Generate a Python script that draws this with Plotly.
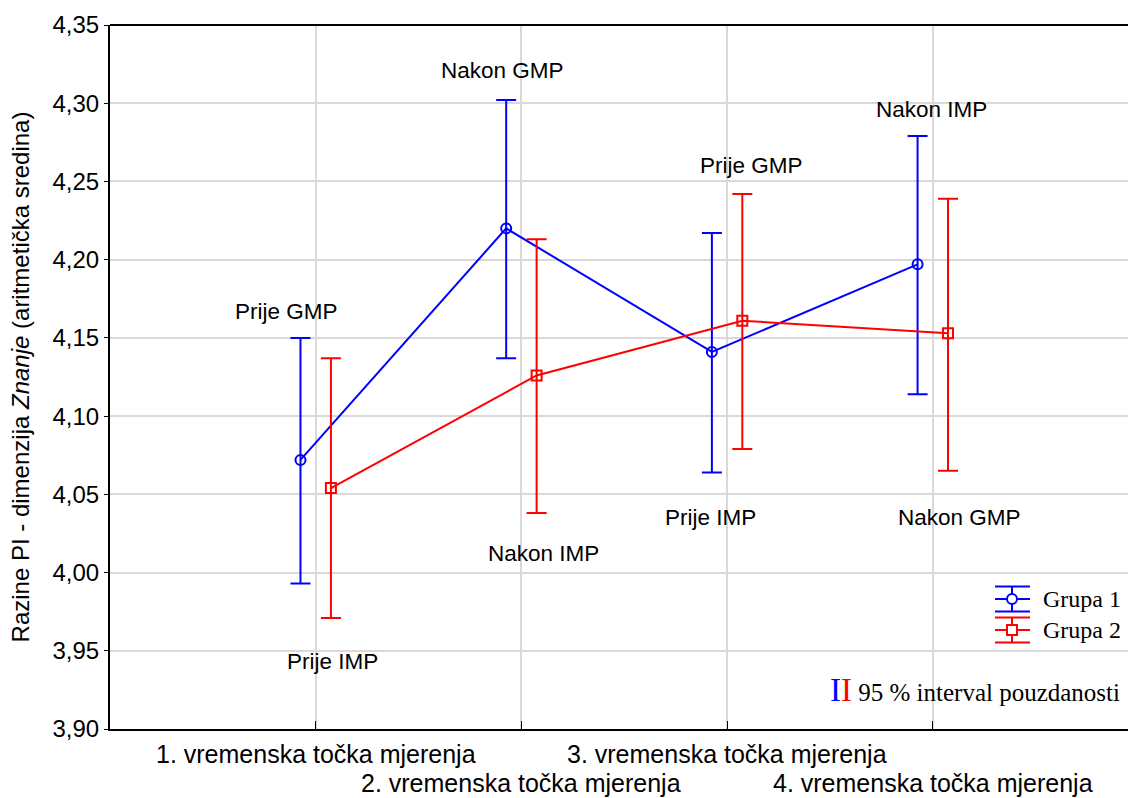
import numpy as np
import plotly.graph_objects as go

# ---- data ----
categories = ["1. vremenska točka mjerenja", "2. vremenska točka mjerenja",
              "3. vremenska točka mjerenja", "4. vremenska točka mjerenja"]
g1_mean = [4.072, 4.220, 4.141, 4.197]
g1_upper = [4.150, 4.302, 4.217, 4.279]
g1_lower = [3.993, 4.137, 4.064, 4.114]
g2_mean = [4.054, 4.126, 4.161, 4.153]
g2_upper = [4.137, 4.213, 4.242, 4.239]
g2_lower = [3.971, 4.038, 4.079, 4.065]

label_texts = ["Prije GMP", "Prije IMP", "Nakon GMP", "Nakon IMP",
               "Prije GMP", "Prije IMP", "Nakon IMP", "Nakon GMP"]
label_x = [0.86, 1.08, 1.906, 2.105, 3.12, 2.917, 3.996, 4.132]
label_y = [4.167, 3.943, 4.321, 4.012, 4.260, 4.035, 4.296, 4.035]

y_ticks = [3.90, 3.95, 4.00, 4.05, 4.10, 4.15, 4.20, 4.25, 4.30, 4.35]

# ---- layout constants ----
W, H = 1128, 798
ML, MR, MT, MB = 110, 0, 25, 69
PW, PH = W - ML - MR, H - MT - MB
BLUE, RED = "#0000ff", "#ff0000"
SANS = "Arial, Liberation Sans, sans-serif"
SERIF = "Times New Roman, Liberation Serif, serif"
OFF = 0.074

pos = np.arange(1, len(categories) + 1)


def px(xp):
    return (xp - ML) / PW


def py(yp):
    return (H - MB - yp) / PH


fig = go.Figure()
for mean, up, lo, off, col, sym, name in [
    (g1_mean, g1_upper, g1_lower, -OFF, BLUE, "circle-open", "Grupa 1"),
    (g2_mean, g2_upper, g2_lower, OFF, RED, "square-open", "Grupa 2"),
]:
    m = np.array(mean)
    fig.add_trace(go.Scatter(
        x=pos + off, y=m, mode="lines+markers", name=name,
        line=dict(color=col, width=2),
        marker=dict(symbol=sym, size=10, color=col, line=dict(width=2, color=col)),
        error_y=dict(type="data", symmetric=False,
                     array=np.array(up) - m, arrayminus=m - np.array(lo),
                     color=col, thickness=2, width=10),
        showlegend=False,
    ))

annotations = []
for t, x, y in zip(label_texts, label_x, label_y):
    annotations.append(dict(x=x, y=y, xref="x", yref="y", text=t, showarrow=False,
                            font=dict(family=SANS, size=22.5, color="black"),
                            xanchor="center", yanchor="middle"))

# staggered category labels under the x axis
for i, (c, p) in enumerate(zip(categories, pos)):
    annotations.append(dict(x=p, y=py(754 if i % 2 == 0 else 783), xref="x", yref="paper",
                            text=c, showarrow=False, xanchor="center", yanchor="middle",
                            font=dict(family=SANS, size=25, color="black")))

shapes = [dict(type="line", xref="paper", yref="paper", x0=0, x1=1, y0=1, y1=1,
               line=dict(color="black", width=2))]

# custom legend
for name, yc, col, kind in [("Grupa 1", 599, BLUE, "circle"), ("Grupa 2", 630, RED, "rect")]:
    for dy in (-12.5, 0, 12.5):
        shapes.append(dict(type="line", xref="paper", yref="paper",
                           x0=px(995), x1=px(1030), y0=py(yc + dy), y1=py(yc + dy),
                           line=dict(color=col, width=2)))
    shapes.append(dict(type="line", xref="paper", yref="paper",
                       x0=px(1012), x1=px(1012), y0=py(yc - 12.5), y1=py(yc + 12.5),
                       line=dict(color=col, width=2)))
    shapes.append(dict(type=kind, xref="paper", yref="paper",
                       x0=px(1007), x1=px(1017), y0=py(yc - 5), y1=py(yc + 5),
                       fillcolor="white", line=dict(color=col, width=2)))
    annotations.append(dict(x=px(1041), y=py(yc), xref="paper", yref="paper", text=name,
                            showarrow=False, xanchor="left", yanchor="middle",
                            font=dict(family=SERIF, size=24, color="black")))

annotations.append(dict(
    x=px(1122), y=py(690), xref="paper", yref="paper", showarrow=False,
    xanchor="right", yanchor="middle",
    text=("<span style='color:#0000ff;font-size:33px'>I</span>"
          "<span style='color:#ff0000;font-size:33px'>I</span> 95 % interval pouzdanosti"),
    font=dict(family=SERIF, size=25, color="black")))

fig.update_layout(
    width=W, height=H, margin=dict(l=ML, r=MR, t=MT, b=MB, pad=0),
    paper_bgcolor="white", plot_bgcolor="white",
    separators=",.",
    showlegend=False,
    annotations=annotations, shapes=shapes,
    xaxis=dict(range=[0, PW / 205.7], tickmode="array", tickvals=pos,
               showticklabels=False, automargin=False,
               showgrid=True, gridcolor="#d9d9d9", gridwidth=2,
               showline=True, linecolor="black", linewidth=2,
               ticks="inside", ticklen=8, tickwidth=1, tickcolor="black",
               zeroline=False),
    yaxis=dict(range=[3.90, 4.35], tickmode="array", tickvals=y_ticks, tickformat=".2f",
               automargin=False,
               showgrid=True, gridcolor="#d9d9d9", gridwidth=2,
               showline=True, linecolor="black", linewidth=2,
               ticks="outside", ticklen=4, tickwidth=1, tickcolor="black",
               tickfont=dict(family=SANS, size=24, color="black"),
               zeroline=False,
               title=dict(text="Razine PI - dimenzija <i>Znanje</i> (aritmetička sredina)",
                          font=dict(family=SANS, size=24, color="black"), standoff=16)),
)

fig.write_html("out.html", config={"displayModeBar": False},
               post_script="document.body.style.margin='0';document.body.style.overflow='hidden';")
